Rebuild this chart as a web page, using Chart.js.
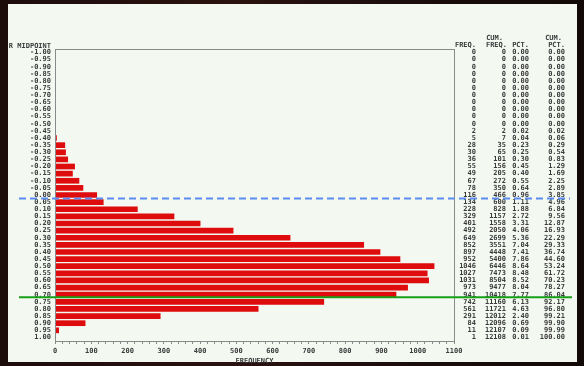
<!DOCTYPE html>
<html>
<head>
<meta charset="utf-8">
<script src="https://cdn.jsdelivr.net/npm/chart.js@4/dist/chart.umd.min.js"></script>
<style>
  html, body { margin: 0; padding: 0; width: 584px; height: 366px; overflow: hidden;
    background: linear-gradient(90deg, #1c0c0a 0%, #2a1210 40%, #1a0d0b 70%, #120907 100%); }
  #panel { position: absolute; left: 8px; top: 4px; width: 569px; height: 358px; background: #f3f8f1; }
  #wrap { position: absolute; left: 0; top: 0; width: 584px; height: 366px; }
</style>
</head>
<body>
<div id="panel"></div>
<div id="wrap"><canvas id="c" width="584" height="366"></canvas></div>
<script>
// Histogram midpoints (variable R) and their frequencies
const midpoints = [
  "-1.00","-0.95","-0.90","-0.85","-0.80","-0.75","-0.70","-0.65","-0.60","-0.55","-0.50",
  "-0.45","-0.40","-0.35","-0.30","-0.25","-0.20","-0.15","-0.10","-0.05","0.00",
  "0.05","0.10","0.15","0.20","0.25","0.30","0.35","0.40","0.45","0.50",
  "0.55","0.60","0.65","0.70","0.75","0.80","0.85","0.90","0.95","1.00"
];
const frequencies = [
  0,0,0,0,0,0,0,0,0,0,0,
  2,5,28,30,36,55,49,67,78,116,
  134,228,329,401,492,649,852,897,952,1046,
  1027,1031,973,941,742,561,291,84,11,1
];
const freqTickLabels = [0,100,200,300,400,500,600,700,800,900,1000,1100];
const tableHeaders = [["", "FREQ."], ["CUM.", "FREQ."], ["", "PCT."], ["CUM.", "PCT."]];

// Reference lines, expressed as midpoint values
const refLineValues = [0.025, 0.717];
const refLineStyles = [
  { color: "#5b8cf2", width: 2, dash: [7, 4], x0: 19, x1: 570 },
  { color: "#18a018", width: 2, dash: [], x0: 19, x1: 572 }
];

// Cumulative frequencies and percentages for the side table
const total = frequencies.reduce((a, b) => a + b, 0);
const cumFreq = [];
frequencies.reduce((acc, f, i) => { cumFreq[i] = acc + f; return cumFreq[i]; }, 0);

const FONT = 'bold 7px "DejaVu Sans Mono"';
const TEXT = "#3a3a3a";

const framePlugin = {
  id: "frame",
  afterDraw(chart) {
    const { ctx, chartArea: a, scales } = chart;
    ctx.save();
    // plot frame
    ctx.strokeStyle = "#8a8a8a";
    ctx.lineWidth = 1;
    ctx.strokeRect(a.left + 0.5, a.top + 0.5, a.right - a.left, a.bottom - a.top);

    // header for midpoints
    ctx.font = FONT;
    ctx.fillStyle = TEXT;
    ctx.textAlign = "right";
    ctx.textBaseline = "middle";
    ctx.fillText("R MIDPOINT", a.left - 4, a.top - 3);

    // frequency table
    const cols = [476, 506, 529, 565];
    tableHeaders.forEach((h, j) => {
      ctx.textAlign = "right";
      if (h[0]) ctx.fillText(h[0], cols[j] - 3, 38);
      ctx.fillText(h[1], cols[j] + (j === 1 ? 1 : 0), 45);
    });
    const y = scales.y;
    frequencies.forEach((f, i) => {
      const py = y.getPixelForValue(i);
      const row = [String(f), String(cumFreq[i]),
        (100 * f / total).toFixed(2), (100 * cumFreq[i] / total).toFixed(2)];
      row.forEach((t, j) => ctx.fillText(t, cols[j], py));
    });

    // reference lines
    refLineValues.forEach((v, k) => {
      const idx = (v + 1) / 0.05;
      const i0 = Math.floor(idx);
      const p0 = y.getPixelForValue(i0), p1 = y.getPixelForValue(i0 + 1);
      const py = p0 + (p1 - p0) * (idx - i0);
      const s = refLineStyles[k];
      ctx.strokeStyle = s.color;
      ctx.lineWidth = s.width;
      ctx.setLineDash(s.dash);
      ctx.beginPath();
      ctx.moveTo(s.x0, py);
      ctx.lineTo(s.x1, py);
      ctx.stroke();
    });
    ctx.restore();
  }
};

new Chart(document.getElementById("c"), {
  type: "bar",
  data: {
    labels: midpoints,
    datasets: [{
      data: frequencies,
      backgroundColor: "#de0c0c",
      borderWidth: 0,
      categoryPercentage: 0.8,
      barPercentage: 1.0
    }]
  },
  options: {
    indexAxis: "y",
    responsive: false,
    animation: false,
    devicePixelRatio: 1,
    layout: { padding: { left: 5, top: 49, right: 130, bottom: 0 } },
    plugins: { legend: { display: false }, tooltip: { enabled: false } },
    scales: {
      y: {
        type: "category",
        grid: { display: false, drawTicks: false },
        border: { display: false },
        afterFit(s) { s.width = 50; },
        ticks: {
          autoSkip: false,
          padding: 4,
          color: TEXT,
          font: { family: "DejaVu Sans Mono", size: 7, weight: "bold" }
        }
      },
      x: {
        type: "linear",
        min: 0,
        max: 1100,
        afterFit(s) { s.height = 25; },
        grid: { drawOnChartArea: false, drawTicks: true, tickLength: 3, color: "#8a8a8a" },
        border: { display: true, color: "#8a8a8a" },
        ticks: {
          stepSize: 20,
          autoSkip: false,
          maxRotation: 0,
          padding: 3,
          color: TEXT,
          font: { family: "DejaVu Sans Mono", size: 7, weight: "bold" },
          callback: (v) => freqTickLabels.includes(v) ? String(v) : ""
        },
        title: {
          display: true,
          text: "FREQUENCY",
          color: TEXT,
          padding: { top: 0, bottom: 1 },
          font: { family: "DejaVu Sans Mono", size: 7, weight: "bold" }
        }
      }
    }
  },
  plugins: [framePlugin]
});
</script>
</body>
</html>
